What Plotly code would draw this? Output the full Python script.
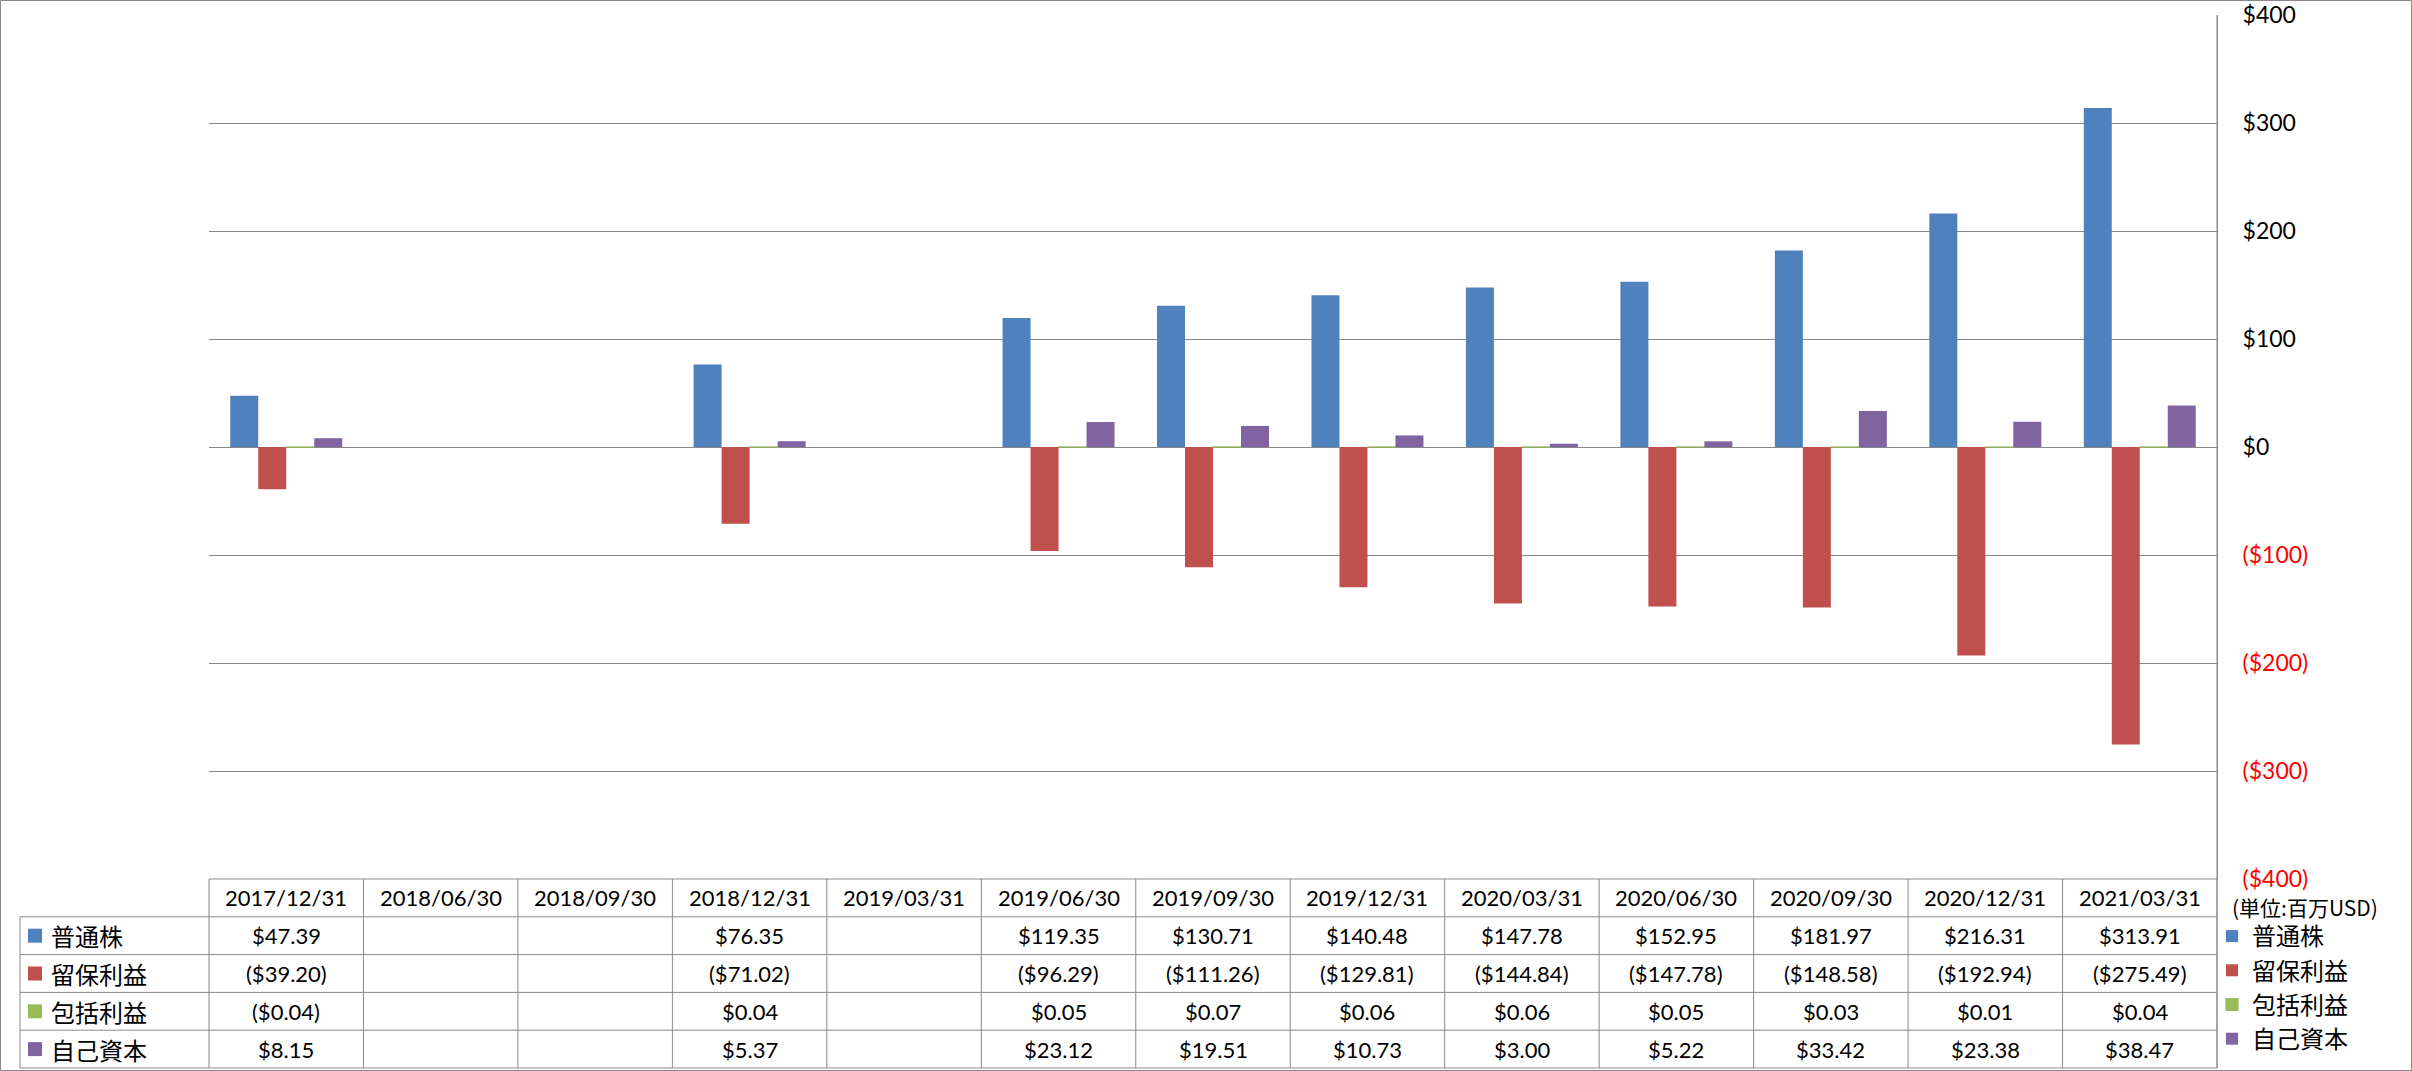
import plotly.graph_objects as go

# ---------------- data ----------------
categories = ["2017/12/31", "2018/06/30", "2018/09/30", "2018/12/31", "2019/03/31",
              "2019/06/30", "2019/09/30", "2019/12/31", "2020/03/31", "2020/06/30",
              "2020/09/30", "2020/12/31", "2021/03/31"]
common_stock = [47.39, None, None, 76.35, None, 119.35, 130.71, 140.48, 147.78, 152.95, 181.97, 216.31, 313.91]
retained_earnings = [-39.20, None, None, -71.02, None, -96.29, -111.26, -129.81, -144.84, -147.78, -148.58, -192.94, -275.49]
comprehensive_income = [-0.04, None, None, 0.04, None, 0.05, 0.07, 0.06, 0.06, 0.05, 0.03, 0.01, 0.04]
equity = [8.15, None, None, 5.37, None, 23.12, 19.51, 10.73, 3.00, 5.22, 33.42, 23.38, 38.47]

series_names = ["普通株", "留保利益", "包括利益", "自己資本"]
series_values = [common_stock, retained_earnings, comprehensive_income, equity]
series_colors = ["#4F81BD", "#C0504D", "#9BBB59", "#8064A2"]

tick_values = [400, 300, 200, 100, 0, -100, -200, -300, -400]
tick_labels = ["$400", "$300", "$200", "$100", "$0", "($100)", "($200)", "($300)", "($400)"]
unit_label = "(単位:百万USD)"

# ---------------- layout geometry ----------------
FIG_W, FIG_H = 2412, 1071
L, R, T, B = 209, 2217, 15, 879
PW, PH = R - L, B - T
GRID = "#898989"
NUM_FONT = "Lato, 'Open Sans', sans-serif"
JP_FONT = "'Noto Sans CJK JP', sans-serif"
NUM_SIZE = 22
JP_SIZE = 24


def px_x(px):
    return (px - L) / PW


def px_y(py):
    return (B - py) / PH


def fmt(v):
    if v is None:
        return ""
    return f"(${abs(v):,.2f})" if v < 0 else f"${v:,.2f}"


fig = go.Figure()
for name, vals, col in zip(series_names, series_values, series_colors):
    is_thin = name == "包括利益"
    fig.add_trace(go.Bar(
        x=categories, y=vals, name=name, legendgroup=name,
        marker=dict(color=col, line=dict(color=col, width=1.2 if is_thin else 0)),
        hoverinfo="skip",
    ))

shapes = []
annotations = []

# table geometry
row_h = 37.8
header_top = B
row_lines = [B + row_h * (i + 1) for i in range(5)]
table_bottom = row_lines[-1]
label_left = 20
n = len(categories)


def hline(y, x0, x1):
    shapes.append(dict(type="line", xref="paper", yref="paper",
                       x0=px_x(x0), x1=px_x(x1), y0=px_y(y), y1=px_y(y),
                       line=dict(color=GRID, width=1)))


def vline(x_paper, y0, y1):
    shapes.append(dict(type="line", xref="paper", yref="paper",
                       x0=x_paper, x1=x_paper, y0=px_y(y0), y1=px_y(y1),
                       line=dict(color=GRID, width=1)))


hline(header_top, L, R)
for yl in row_lines:
    hline(yl, label_left, R)
vline(px_x(label_left), row_lines[0], table_bottom)
for k in range(n + 1):
    vline(k / n, header_top, table_bottom)
# axis line continuing through the table
vline(1, T, table_bottom)

# outer chart border
shapes.append(dict(type="rect", xref="paper", yref="paper",
                   x0=px_x(0.5), x1=px_x(FIG_W - 0.5), y0=px_y(0.5), y1=px_y(FIG_H - 0.5),
                   line=dict(color=GRID, width=1), fillcolor="rgba(0,0,0,0)"))

# header labels
for c in categories:
    annotations.append(dict(x=c, xref="x", y=px_y(header_top + row_h / 2), yref="paper",
                            text=c, showarrow=False, xanchor="center", yanchor="middle",
                            font=dict(family=NUM_FONT, size=NUM_SIZE, color="#000000")))

# rows
for i, (name, vals, col) in enumerate(zip(series_names, series_values, series_colors)):
    yc = header_top + row_h * (i + 1.5)
    shapes.append(dict(type="rect", xref="paper", yref="paper",
                       x0=px_x(28), x1=px_x(42), y0=px_y(yc - 7), y1=px_y(yc + 7),
                       line=dict(width=0), fillcolor=col))
    annotations.append(dict(x=px_x(49), xref="paper", y=px_y(yc), yref="paper",
                            text=name, showarrow=False, xanchor="left", yanchor="middle",
                            font=dict(family=JP_FONT, size=JP_SIZE, color="#000000")))
    for c, v in zip(categories, vals):
        if v is None:
            continue
        annotations.append(dict(x=c, xref="x", y=px_y(yc), yref="paper",
                                text=fmt(v), showarrow=False, xanchor="center", yanchor="middle",
                                font=dict(family=NUM_FONT, size=NUM_SIZE, color="#000000")))

annotations.append(dict(x=px_x(2230), xref="paper", y=px_y(907), yref="paper",
                        text=unit_label, showarrow=False, xanchor="left", yanchor="middle",
                        font=dict(family=JP_FONT, size=21, color="#000000")))

tick_text = [t if v >= 0 else f'<span style="color:#FF0000">{t}</span>'
             for v, t in zip(tick_values, tick_labels)]

fig.update_layout(
    width=FIG_W, height=FIG_H, autosize=False,
    margin=dict(l=L, r=FIG_W - R, t=T, b=FIG_H - B, pad=0, autoexpand=False),
    paper_bgcolor="white", plot_bgcolor="white",
    barmode="group", bargap=0.275, bargroupgap=0,
    showlegend=True,
    legend=dict(x=px_x(2212), xanchor="left", y=px_y(914), yanchor="top",
                bgcolor="rgba(0,0,0,0)", borderwidth=0,
                font=dict(family=JP_FONT, size=JP_SIZE, color="#000000"),
                tracegroupgap=10.5, traceorder="normal", itemclick=False, itemdoubleclick=False),
    xaxis=dict(type="category", categoryorder="array", categoryarray=categories,
               range=[-0.5, n - 0.5], showticklabels=False, showgrid=False,
               zeroline=False, showline=False, ticks="", automargin=False),
    yaxis=dict(side="right", range=[-400, 400], tickvals=tick_values, ticktext=tick_text,
               showgrid=True, gridcolor=GRID, gridwidth=1,
               zeroline=True, zerolinecolor=GRID, zerolinewidth=1,
               showline=True, linecolor=GRID, linewidth=1, ticks="",
               ticklabelstandoff=20, automargin=False,
               tickfont=dict(family=NUM_FONT, size=NUM_SIZE + 1, color="#000000")),
    shapes=shapes, annotations=annotations,
)

fig.write_html("out.html")
